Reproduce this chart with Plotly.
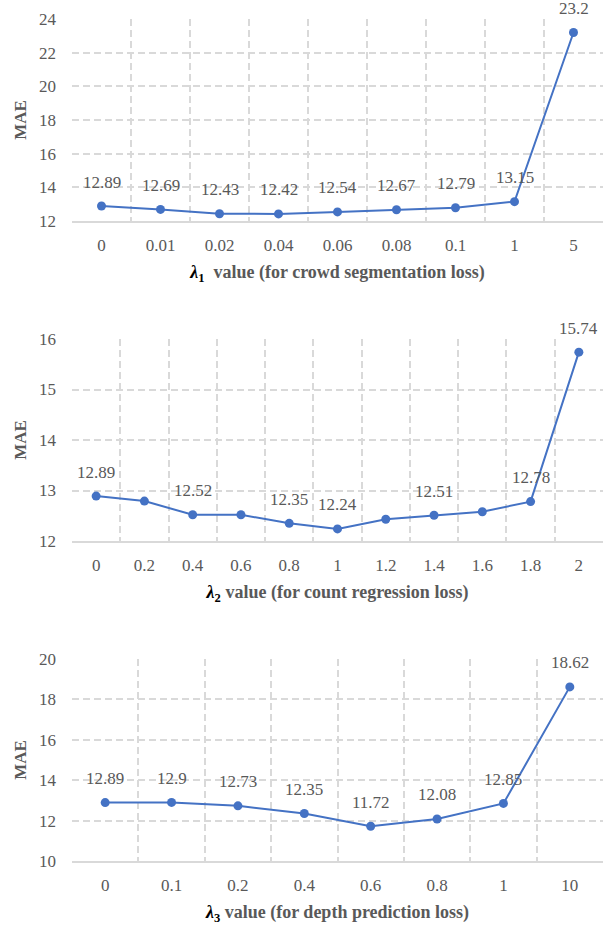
import plotly.graph_objects as go

# Sensitivity of MAE to each loss weight
lam1_vals = ["0", "0.01", "0.02", "0.04", "0.06", "0.08", "0.1", "1", "5"]
lam1_mae = [12.89, 12.69, 12.43, 12.42, 12.54, 12.67, 12.79, 13.15, 23.2]
lam1_show = [True, True, True, True, True, True, True, True, True]

lam2_vals = ["0", "0.2", "0.4", "0.6", "0.8", "1", "1.2", "1.4", "1.6", "1.8", "2"]
lam2_mae = [12.89, 12.79, 12.52, 12.52, 12.35, 12.24, 12.43, 12.51, 12.58, 12.78, 15.74]
lam2_show = [True, False, True, False, True, True, False, True, False, True, True]

lam3_vals = ["0", "0.1", "0.2", "0.4", "0.6", "0.8", "1", "10"]
lam3_mae = [12.89, 12.9, 12.73, 12.35, 11.72, 12.08, 12.85, 18.62]
lam3_show = [True, True, True, True, True, True, True, True]

y_ranges = [(12, 24, 2), (12, 16, 1), (10, 20, 2)]
x_titles = [
    "<b><span style='color:#000'><i>λ</i><sub>1</sub></span>  value (for crowd segmentation loss)</b>",
    "<b><span style='color:#000'><i>λ</i><sub>2</sub></span> value (for count regression loss)</b>",
    "<b><span style='color:#000'><i>λ</i><sub>3</sub></span> value (for depth prediction loss)</b>",
]

W, H = 605, 926
plot_boxes = [(19, 221), (339, 541), (659, 861)]  # top/bottom pixel rows of each plot area
x_left, x_right = 72, 603

BLUE = "#4472C4"
GRAY = "#595959"
GRID = "#d9d9d9"
FONT = "Liberation Serif, Times New Roman, serif"
DASH = "7px,4px"

fig = go.Figure()
series = [(lam1_vals, lam1_mae, lam1_show), (lam2_vals, lam2_mae, lam2_show), (lam3_vals, lam3_mae, lam3_show)]
annotations = []

for i, (cats, vals, show) in enumerate(series):
    n = i + 1
    xa = "x" if n == 1 else f"x{n}"
    ya = "y" if n == 1 else f"y{n}"
    fig.add_trace(go.Scatter(
        x=cats, y=vals, xaxis=xa, yaxis=ya,
        mode="lines+markers",
        line=dict(color=BLUE, width=2),
        marker=dict(color=BLUE, size=9),
        cliponaxis=False, showlegend=False,
    ))
    # value labels above the points (category index positions)
    for j, (v, s) in enumerate(zip(vals, show)):
        if s:
            annotations.append(dict(
                x=j, y=v, xref=xa, yref=ya, text=f"{v:g}", showarrow=False,
                yshift=24, font=dict(family=FONT, size=17, color=GRAY),
            ))
    top, bot = plot_boxes[i]
    y0, y1, dt = y_ranges[i]
    xkey = "xaxis" if n == 1 else f"xaxis{n}"
    ykey = "yaxis" if n == 1 else f"yaxis{n}"
    fig.update_layout(**{
        xkey: dict(
            type="category", domain=[x_left / W, x_right / W], anchor=ya,
            range=[-0.5, len(cats) - 0.5],
            tickson="boundaries", ticks="", showgrid=True,
            gridcolor=GRID, griddash=DASH, gridwidth=1.5,
            showline=True, linecolor=GRID, linewidth=1.5,
            tickfont=dict(family=FONT, size=17, color=GRAY),
            ticklabelstandoff=8,
            title=dict(text=x_titles[i], font=dict(family=FONT, size=18, color=GRAY), standoff=11),
            automargin=False, zeroline=False,
        ),
        ykey: dict(
            domain=[1 - bot / H, 1 - top / H], anchor=xa,
            range=[y0, y1], dtick=dt, tick0=y0,
            showgrid=True, gridcolor=GRID, griddash=DASH, gridwidth=1.5,
            zeroline=False, showline=False, ticks="",
            tickfont=dict(family=FONT, size=17, color=GRAY),
            ticklabelstandoff=15,
            title=dict(text="<b>MAE</b>", font=dict(family=FONT, size=17, color=GRAY), standoff=8),
            automargin=False,
        ),
    })

fig.update_layout(
    width=W, height=H,
    margin=dict(l=0, r=0, t=0, b=0),
    paper_bgcolor="white", plot_bgcolor="white",
    annotations=annotations,
)

fig.write_html("out.html")
